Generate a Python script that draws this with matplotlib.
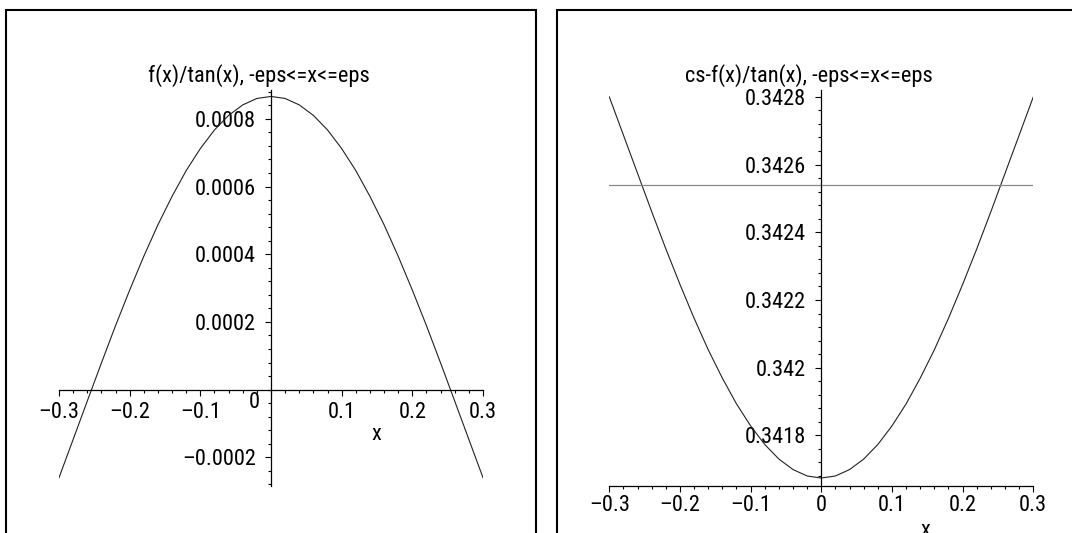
import numpy as np
import matplotlib
matplotlib.use('Agg')
import matplotlib.pyplot as plt
from matplotlib import font_manager
from matplotlib.patches import Rectangle
from matplotlib.ticker import MultipleLocator

# font: Maple uses Helvetica Narrow, take a narrow sans if there is one
fam, fs = 'Liberation Sans', 14.2
for name, size in [('Liberation Sans Narrow', 16.9), ('Roboto Condensed', 16.1),
                   ('Open Sans Condensed', 15.5)]:
    try:
        font_manager.findfont(name, fallback_to_default=False)
        fam, fs = name, size
        break
    except ValueError:
        pass
plt.rcParams['font.family'] = [fam, 'DejaVu Sans']
plt.rcParams['font.size'] = fs

# data
xs = [-0.30, -0.28, -0.26, -0.24, -0.22, -0.20, -0.18, -0.16, -0.14, -0.12, -0.10,
      -0.08, -0.06, -0.04, -0.02, 0.00, 0.02, 0.04, 0.06, 0.08, 0.10, 0.12, 0.14,
      0.16, 0.18, 0.20, 0.22, 0.24, 0.26, 0.28, 0.30]
f_tan = [-0.000260, -0.000147, -0.0000338, 0.0000787, 0.000189, 0.000294, 0.000394,
         0.000487, 0.000571, 0.000647, 0.000712, 0.000767, 0.000810, 0.000841,
         0.000860, 0.000866, 0.000860, 0.000841, 0.000810, 0.000767, 0.000712,
         0.000647, 0.000571, 0.000487, 0.000394, 0.000294, 0.000189, 0.0000787,
         -0.0000338, -0.000147, -0.000260]
cs_f_tan = [0.342800, 0.342687, 0.342574, 0.342461, 0.342351, 0.342246, 0.342146,
            0.342053, 0.341969, 0.341893, 0.341828, 0.341773, 0.341730, 0.341699,
            0.341680, 0.341674, 0.341680, 0.341699, 0.341730, 0.341773, 0.341828,
            0.341893, 0.341969, 0.342053, 0.342146, 0.342246, 0.342351, 0.342461,
            0.342574, 0.342687, 0.342800]
cs = 0.34254

xticks = [-0.3, -0.2, -0.1, 0.1, 0.2, 0.3]
xticks_r = [-0.3, -0.2, -0.1, 0.0, 0.1, 0.2, 0.3]
xlabels_r = ['\u20130.3', '\u20130.2', '\u20130.1', '0', '0.1', '0.2', '0.3']
xlabels = ['\u20130.3', '\u20130.2', '\u20130.1', '0.1', '0.2', '0.3']
yticks_l = [-0.0002, 0.0002, 0.0004, 0.0006, 0.0008]
ylabels_l = ['\u20130.0002', '0.0002', '0.0004', '0.0006', '0.0008']
yticks_r = [0.3418, 0.3420, 0.3422, 0.3424, 0.3426, 0.3428]
ylabels_r = ['0.3418', '0.342', '0.3422', '0.3424', '0.3426', '0.3428']

W, H = 1072, 533
fig = plt.figure(figsize=(W / 100, H / 100), dpi=100)


def px_axes(x0, x1, ytop, ybot):
    return fig.add_axes([x0 / W, 1 - ybot / H, (x1 - x0) / W, (ybot - ytop) / H])


def style(ax, xpad):
    for s in ['top', 'right']:
        ax.spines[s].set_visible(False)
    for s in ['left', 'bottom']:
        ax.spines[s].set_linewidth(0.9)
    ax.patch.set_visible(False)
    ax.xaxis.set_minor_locator(MultipleLocator(0.02))
    ax.yaxis.set_minor_locator(MultipleLocator(0.00004))
    ax.tick_params(which='major', direction='out', length=4, width=0.8)
    ax.tick_params(which='minor', direction='out', length=2.5, width=0.8)
    ax.tick_params(axis='y', pad=7)
    ax.tick_params(axis='x', pad=xpad)


# left panel
ax1 = px_axes(59, 483, 90, 486)
ax1.plot(xs, f_tan, color='#222222', lw=0.8)
ax1.set_xlim(-0.3, 0.3)
ax1.set_ylim(-0.0002845, 0.000885)
ax1.spines['left'].set_position(('data', 0))
ax1.spines['bottom'].set_position(('data', 0))
style(ax1, 5)
ax1.set_xticks(xticks, xlabels)
ax1.set_yticks(yticks_l, ylabels_l)
fig.text(260 / W, 1 - 402.5 / H, '0', ha='right', va='center')
fig.text(376 / W, 1 - 435 / H, 'x', ha='center', va='center')
fig.text(259 / W, 1 - 75.5 / H, 'f(x)/tan(x), -eps<=x<=eps', ha='center', va='center')

# right panel
ax2 = px_axes(609.3, 1033.3, 90, 485.7)
ax2.plot(xs, cs_f_tan, color='#222222', lw=0.8)
ax2.plot([xs[0], xs[-1]], [cs, cs], color='#888888', lw=0.9)
ax2.set_xlim(-0.3, 0.3)
ax2.set_ylim(0.3416513, 0.3428203)
ax2.spines['left'].set_position(('data', 0))
style(ax2, 2.5)
ax2.set_xticks(xticks_r, xlabels_r)
ax2.set_yticks(yticks_r, ylabels_r)
# axis title sits at the bottom edge, cut off as in the original
fig.text(925 / W, 1 - 530 / H, 'x', ha='center', va='center')
fig.text(809 / W, 1 - 75.5 / H, 'cs-f(x)/tan(x), -eps<=x<=eps', ha='center', va='center')

# frames round each plot
for x0, x1 in [(6, 536), (557, 1100)]:
    fig.add_artist(Rectangle((x0 / W, 1 - 570 / H), (x1 - x0) / W, 560 / H,
                             transform=fig.transFigure, fill=False,
                             edgecolor='black', lw=1.5))

fig.savefig('out.png', dpi=100)
